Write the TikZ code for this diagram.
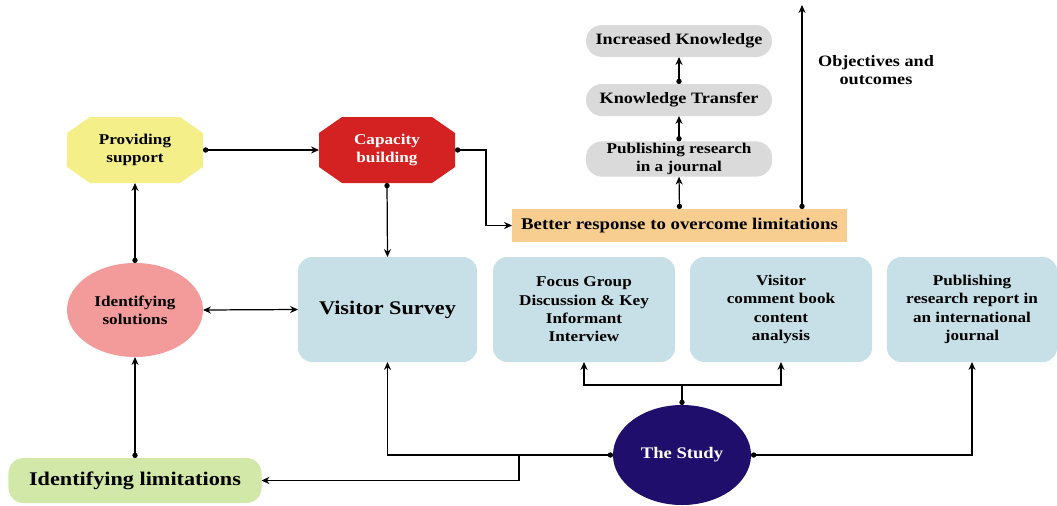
\documentclass[tikz,border=0pt]{standalone}
\usepackage{fontspec}
\setmainfont{Liberation Serif}[FakeStretch=1.15]
\usetikzlibrary{shapes.geometric,arrows.meta,backgrounds}

\definecolor{supportyellow}{HTML}{F5EF8A}
\definecolor{capred}{HTML}{D42222}
\definecolor{solpink}{HTML}{F39A9A}
\definecolor{surveyblue}{HTML}{C7E0E7}
\definecolor{studynavy}{HTML}{1F0E6C}
\definecolor{limitgreen}{HTML}{D1E8A8}
\definecolor{resporange}{HTML}{F8CE90}
\definecolor{outgray}{HTML}{DADADA}

% octagon fill behind a plain node
\newcommand{\octfill}[2]{\fill[#2] ([xshift=0.46cm]#1.north west) -- ([xshift=-0.46cm]#1.north east) -- ([yshift=-0.32cm]#1.north east) -- ([yshift=0.32cm]#1.south east) -- ([xshift=-0.46cm]#1.south east) -- ([xshift=0.46cm]#1.south west) -- ([yshift=0.32cm]#1.south west) -- ([yshift=-0.32cm]#1.north west) -- cycle;}

\begin{document}
\begin{tikzpicture}[
    txt/.style={align=center, inner sep=1pt, outer sep=0pt, font=\bfseries\fontsize{8.5}{10.4}\selectfont},
    octa/.style={txt, rectangle, minimum width=2.72cm, minimum height=1.32cm},
    method/.style={txt, rectangle, rounded corners=8pt, fill=surveyblue, minimum width=3.64cm, minimum height=2.1cm},
    outcome/.style={txt, rectangle, rounded corners=0.32cm, fill=outgray, minimum width=3.72cm, minimum height=0.64cm},
    link/.style={{Circle[length=3pt]}-{Stealth[length=4.5pt,width=4pt]}, line width=0.7pt},
    both/.style={{Stealth[length=4.5pt,width=4pt]}-{Stealth[length=4.5pt,width=4pt]}, line width=0.7pt}
]
    \useasboundingbox (0,0) rectangle (21.14,-10.1);

    % Support and capacity
    \node[octa] (ps) at (2.7,-3.0) {Providing\\support};
    \node[octa, text=white] (cb) at (7.74,-3.0) {Capacity\\building};
    \begin{scope}[on background layer]
        \octfill{ps}{supportyellow}
        \octfill{cb}{capred}
    \end{scope}
    \node[txt, ellipse, fill=solpink, minimum width=2.72cm, minimum height=1.88cm] (is) at (2.7,-6.2) {Identifying\\solutions};

    % Methods
    \node[method, minimum width=3.58cm, font=\bfseries\fontsize{11}{13}\selectfont] (vs) at (7.75,-6.19) {Visitor Survey};
    \node[method] (fg) at (11.68,-6.19) {Focus Group\\Discussion \& Key\\Informant\\Interview};
    \node[method] (vc) at (15.62,-6.19) {Visitor\\comment book\\content\\analysis};
    \node[method, minimum width=3.4cm] (pr) at (19.44,-6.19) {Publishing\\research report in\\an international\\journal};

    % Study and limitations
    \node[txt, ellipse, fill=studynavy, text=white, minimum width=2.76cm, minimum height=2.0cm, font=\bfseries\fontsize{9.2}{11}\selectfont] (st) at (13.64,-9.1) {The Study};
    \node[txt, rectangle, rounded corners=0.3cm, fill=limitgreen, minimum width=5.06cm, minimum height=0.9cm, font=\bfseries\fontsize{11}{13}\selectfont] (il) at (2.7,-9.61) {Identifying limitations};

    % Outcomes
    \node[txt, rectangle, fill=resporange, minimum width=6.7cm, minimum height=0.66cm, font=\bfseries\fontsize{9.3}{11}\selectfont] (br) at (13.59,-4.51) {Better response to overcome limitations};
    \node[outcome] (pj) at (13.58,-3.18) {Publishing research\\in a journal};
    \node[outcome, font=\bfseries\fontsize{9}{11}\selectfont] (kt) at (13.58,-2.0) {Knowledge Transfer};
    \node[outcome, font=\bfseries\fontsize{9}{11}\selectfont] (ik) at (13.58,-0.82) {Increased Knowledge};
    \node[txt, font=\bfseries\fontsize{9}{10}\selectfont] (obj) at (17.52,-1.4) {Objectives and\\outcomes};
    \coordinate (top) at (16.04,-0.1);

    % Left links
    \draw[link] (ps.east) -- (cb.west);
    \draw[link] (is.north) -- (ps.south);
    \draw[link] (cb.south) -- (vs.north);
    \draw[both] (is.east) -- (vs.west);
    \draw[link] (il.north) -- (is.south);
    \draw[link] (cb.east) -- ++(0.62,0) |- (br.west);

    % Outcome links
    \draw[link] (br.north) -- (pj.south);
    \draw[link] (pj.north) -- (kt.south);
    \draw[link] (kt.north) -- (ik.south);
    \draw[link] (br.north -| top) -- (top);

    % Study links
    \coordinate (split) at (13.64,-7.7);
    \draw[link] (st.north) -- (split) -| (fg.south);
    \draw[-{Stealth[length=4.5pt,width=4pt]}, line width=0.7pt] (split) -| (vc.south);
    \draw[link] (st.west) -| (vs.south);
    \coordinate (fork) at (10.38,-9.1);
    \draw[-{Stealth[length=4.5pt,width=4pt]}, line width=0.7pt] (fork) |- (il.east);
    \draw[link] (st.east) -| (pr.south);
\end{tikzpicture}
\end{document}
